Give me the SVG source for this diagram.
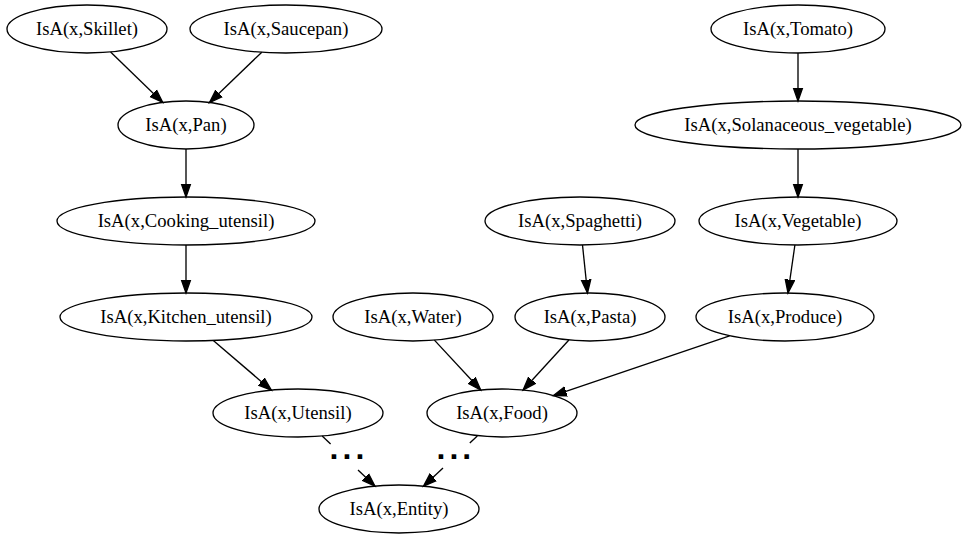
<svg xmlns="http://www.w3.org/2000/svg" width="967" height="539" viewBox="0 0 967 539">
<style>
.n ellipse{fill:none;stroke:#000;stroke-width:1.33}
.n text{font-family:"Liberation Serif","Times New Roman",serif;font-size:18.67px;text-anchor:middle;fill:#000}
.e line{stroke:#000;stroke-width:1.33}
.dots{font-family:"Liberation Sans",Arial,sans-serif;font-size:32px;font-weight:bold;letter-spacing:4.1px;fill:#000}
</style>
<defs>
<marker id="ah" markerUnits="userSpaceOnUse" markerWidth="16" markerHeight="12" refX="13.3" refY="6" orient="auto" viewBox="0 0 16 12">
<path d="M0,1.33 L13.3,6 L0,10.67 z" fill="#000" stroke="#000" stroke-width="1.33"/>
</marker>
</defs>
<rect width="967" height="539" fill="#fff"/>
<g id="edges" class="e">
<line x1="110.6" y1="51.9" x2="162.7" y2="102.4" marker-end="url(#ah)"/>
<line x1="261.8" y1="52.2" x2="209.5" y2="102.5" marker-end="url(#ah)"/>
<line x1="186" y1="149" x2="186" y2="197" marker-end="url(#ah)"/>
<line x1="186" y1="245" x2="186" y2="293" marker-end="url(#ah)"/>
<line x1="213.3" y1="340.4" x2="271.4" y2="390.2" marker-end="url(#ah)"/>
<line x1="434.4" y1="340.1" x2="480.7" y2="390" marker-end="url(#ah)"/>
<line x1="568.9" y1="340" x2="523.1" y2="390" marker-end="url(#ah)"/>
<line x1="729.6" y1="335.8" x2="553.4" y2="395.6" marker-end="url(#ah)"/>
<line x1="582.5" y1="245" x2="587.5" y2="293" marker-end="url(#ah)"/>
<line x1="794.9" y1="245" x2="788" y2="293" marker-end="url(#ah)"/>
<line x1="798" y1="53" x2="798" y2="101" marker-end="url(#ah)"/>
<line x1="798" y1="149" x2="798" y2="197" marker-end="url(#ah)"/>
<line x1="322.2" y1="436" x2="330.6" y2="444"/>
<line x1="358" y1="470" x2="374.9" y2="486.1" marker-end="url(#ah)"/>
<line x1="477.3" y1="436" x2="469.8" y2="443"/>
<line x1="443" y1="468" x2="423.5" y2="486.2" marker-end="url(#ah)"/>
<text class="dots" x="329.5" y="458.5">...</text>
<text class="dots" x="436.4" y="458.5">...</text>
</g>
<g id="skillet" class="n"><ellipse cx="87" cy="29" rx="80" ry="24"/><text x="87" y="35">IsA(x,Skillet)</text></g>
<g id="saucepan" class="n"><ellipse cx="286" cy="29" rx="96" ry="24"/><text x="286" y="35">IsA(x,Saucepan)</text></g>
<g id="pan" class="n"><ellipse cx="186" cy="125" rx="68" ry="24"/><text x="186" y="131">IsA(x,Pan)</text></g>
<g id="cooking_utensil" class="n"><ellipse cx="186" cy="221" rx="129" ry="24"/><text x="186" y="227">IsA(x,Cooking_utensil)</text></g>
<g id="kitchen_utensil" class="n"><ellipse cx="186" cy="317" rx="126" ry="24"/><text x="186" y="323">IsA(x,Kitchen_utensil)</text></g>
<g id="utensil" class="n"><ellipse cx="298" cy="413" rx="85" ry="24"/><text x="298" y="419">IsA(x,Utensil)</text></g>
<g id="entity" class="n"><ellipse cx="399" cy="509" rx="80" ry="24"/><text x="399" y="515">IsA(x,Entity)</text></g>
<g id="food" class="n"><ellipse cx="502" cy="413" rx="75" ry="24"/><text x="502" y="419">IsA(x,Food)</text></g>
<g id="water" class="n"><ellipse cx="413" cy="317" rx="80" ry="24"/><text x="413" y="323">IsA(x,Water)</text></g>
<g id="pasta" class="n"><ellipse cx="590" cy="317" rx="75" ry="24"/><text x="590" y="323">IsA(x,Pasta)</text></g>
<g id="spaghetti" class="n"><ellipse cx="580" cy="221" rx="95" ry="24"/><text x="580" y="227">IsA(x,Spaghetti)</text></g>
<g id="produce" class="n"><ellipse cx="785" cy="317" rx="89" ry="24"/><text x="785" y="323">IsA(x,Produce)</text></g>
<g id="vegetable" class="n"><ellipse cx="798" cy="221" rx="99" ry="24"/><text x="798" y="227">IsA(x,Vegetable)</text></g>
<g id="solanaceous" class="n"><ellipse cx="798" cy="125" rx="163" ry="24"/><text x="798" y="131">IsA(x,Solanaceous_vegetable)</text></g>
<g id="tomato" class="n"><ellipse cx="798" cy="29" rx="87" ry="24"/><text x="798" y="35">IsA(x,Tomato)</text></g>
</svg>
